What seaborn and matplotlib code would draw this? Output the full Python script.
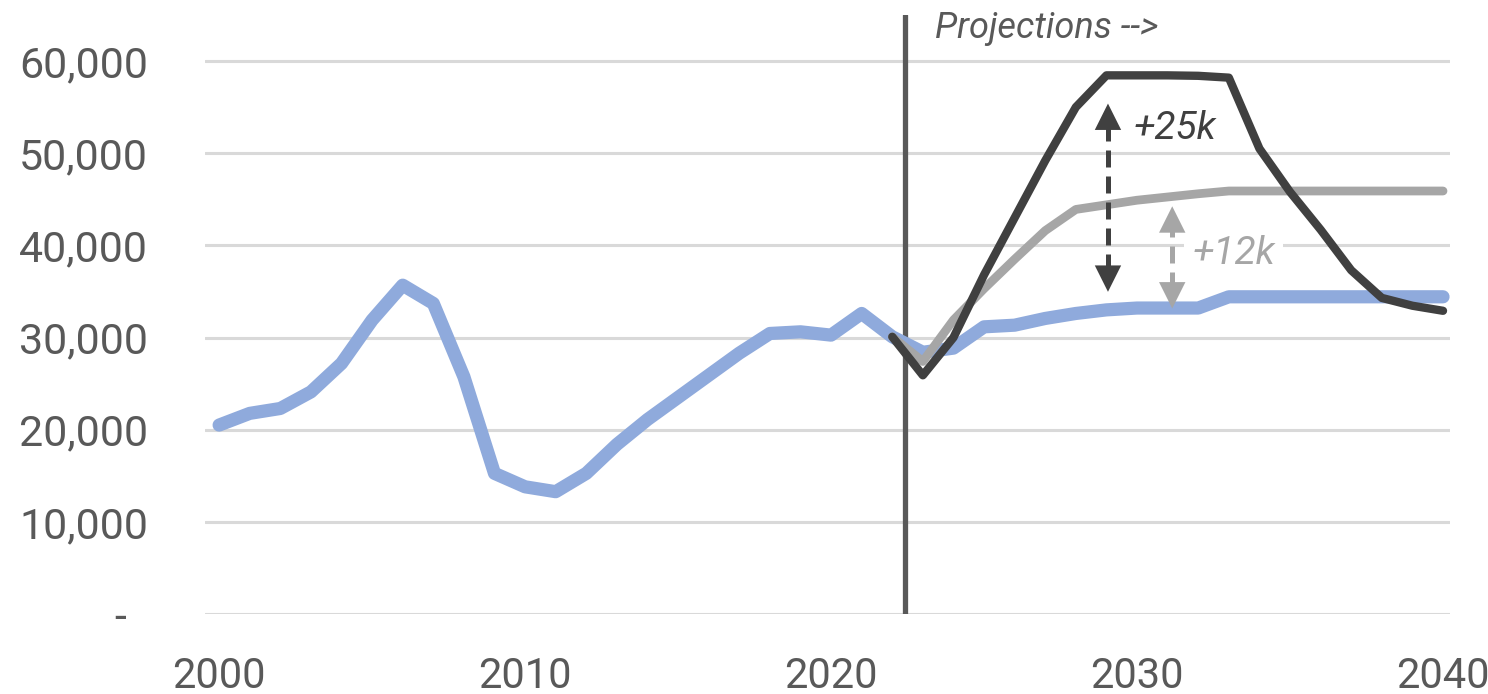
import matplotlib
matplotlib.use("Agg")
import matplotlib.pyplot as plt
import seaborn as sns

# Annual values, history plus baseline projection
years = list(range(2000, 2041))
baseline = [20500, 21770, 22300, 24100, 27190, 31890, 35680, 33700, 25740, 15260,
            13800, 13270, 15260, 18400, 21100, 23500, 25900, 28300, 30440, 30620,
            30260, 32610, 30080, 28400, 28850, 31160, 31340, 32070, 32610, 33000,
            33200, 33200, 33200, 34420, 34420, 34420, 34420, 34420, 34420, 34420,
            34420]

# Alternative projections, starting from the last observed year
proj_years = list(range(2022, 2041))
high_scenario = [30080, 25900, 30000, 36800, 43000, 49200, 55000, 58450, 58450, 58450,
                 58400, 58200, 50500, 45800, 41700, 37300, 34300, 33450, 32900]
mid_scenario = [30080, 27400, 31900, 35300, 38500, 41600, 43900, 44400, 44900, 45250,
                45600, 45900, 45900, 45900, 45900, 45900, 45900, 45900, 45900]

y_ticks = [0, 10000, 20000, 30000, 40000, 50000, 60000]
y_tick_labels = ["-  ", "10,000", "20,000", "30,000", "40,000", "50,000", "60,000"]
x_ticks = [2000, 2010, 2020, 2030, 2040]
projection_start = 2022.4

BLUE = "#8FAADC"
DARK = "#404040"
GREY = "#A6A6A6"
TEXT = "#595959"

sns.set_theme(style="white")
plt.rcParams["font.family"] = ["Roboto", "DejaVu Sans"]

fig = plt.figure(figsize=(14.88, 6.94), dpi=100)
ax = fig.add_axes([0.1378, 0.1153, 0.8367, 0.8631])

ax.axvline(projection_start, color=TEXT, lw=3.8, zorder=2)

line_kw = dict(solid_capstyle="round", solid_joinstyle="round")
sns.lineplot(x=years, y=baseline, color=BLUE, lw=9.5, ax=ax, zorder=3, **line_kw)
sns.lineplot(x=proj_years, y=mid_scenario, color=GREY, lw=6.3, ax=ax, zorder=4, **line_kw)
sns.lineplot(x=proj_years, y=high_scenario, color=DARK, lw=6.0, ax=ax, zorder=5, **line_kw)


def gap_arrow(x, low, high, color, head):
    """Dashed double-headed arrow between two levels."""
    ax.plot([x, x], [low + head * 0.8, high - head * 0.8], color=color, lw=3.6,
            dashes=(3.4, 1.8), solid_capstyle="butt", zorder=6)
    for tip, base in ((high, high - head), (low, low + head)):
        ax.annotate("", xy=(x, tip), xytext=(x, base),
                    arrowprops=dict(arrowstyle="-|>,head_length=1.0,head_width=0.5",
                                    mutation_scale=19, color=color, lw=0,
                                    shrinkA=0, shrinkB=0),
                    zorder=6)


gap_arrow(2029.05, 34960, 55390, DARK, 2800)
gap_arrow(2031.15, 33150, 44240, GREY, 2600)

ax.text(2029.9, 52700, "+25k", color=DARK, fontsize=28, style="italic",
        ha="left", va="center", zorder=7)
ax.text(2031.8, 39150, "+12k", color=GREY, fontsize=28, style="italic",
        ha="left", va="center", zorder=5,
        bbox=dict(boxstyle="square,pad=0.2", fc="white", ec="none"))
ax.text(2023.4, 63600, "Projections -->", color=TEXT, fontsize=26, style="italic",
        ha="left", va="center", zorder=7)

ax.set_xlim(1999.54, 2040.23)
ax.set_ylim(0, 65000)
ax.set_yticks(y_ticks)
ax.set_yticklabels(y_tick_labels)
ax.set_xticks(x_ticks)
ax.set_xticklabels([str(t) for t in x_ticks])
ax.yaxis.grid(True, color="#D9D9D9", lw=2.2)
ax.xaxis.grid(False)
ax.set_axisbelow(True)
for side in ax.spines.values():
    side.set_visible(False)
ax.tick_params(axis="y", length=0, pad=41, labelsize=31, labelcolor=TEXT)
ax.tick_params(axis="x", length=0, pad=30, labelsize=30, labelcolor=TEXT)
ax.set_xlabel("")
ax.set_ylabel("")

fig.savefig("out.png", dpi=100)
